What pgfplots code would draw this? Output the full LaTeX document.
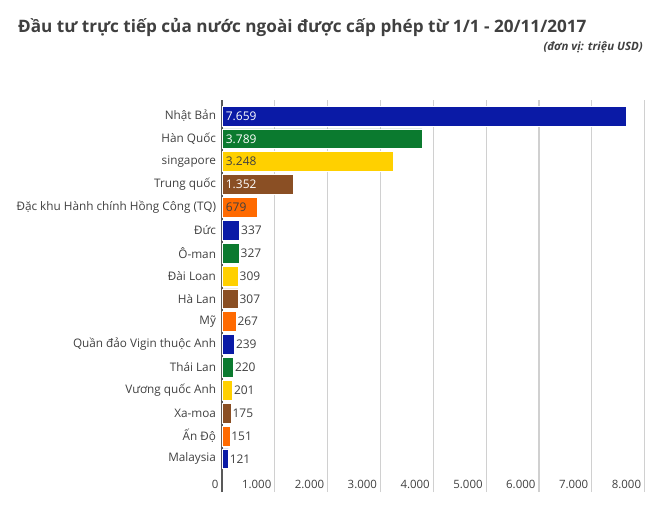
\documentclass[border=0pt]{standalone}
\usepackage{fontspec}
\setmainfont{Open Sans}
\usepackage{pgfplots}
\pgfplotsset{compat=1.18}
\definecolor{cblue}{HTML}{0A1AA6}
\definecolor{cgreen}{HTML}{0B7A2F}
\definecolor{cyellow}{HTML}{FFD000}
\definecolor{cbrown}{HTML}{8A4F24}
\definecolor{corange}{HTML}{FF6A00}
\definecolor{txt}{HTML}{404040}
\definecolor{gridc}{HTML}{D0D0D0}
\begin{document}
\begin{tikzpicture}
\begin{axis}[
    scale only axis,
    width=422.6bp, height=392bp,
    xmin=0, xmax=8000,
    ymin=-1.45, ymax=15.7,
    axis line style={draw=none},
    xtick={0,1000,...,8000},
    xticklabels={0,1.000,2.000,3.000,4.000,5.000,6.000,7.000,8.000},
    xmajorgrids,
    grid style={gridc, line width=1.2pt},
    major tick length=0pt,
    xticklabel style={anchor=base east, yshift=4bp, font=\fontsize{11.5}{13}\selectfont, text=txt},
    ytick={0,...,15},
    yticklabels={Malaysia,Ấn Độ,Xa-moa,Vương quốc Anh,Thái Lan,Quần đảo Vigin thuộc Anh,Mỹ,Hà Lan,Đài Loan,Ô-man,Đức,Đặc khu Hành chính Hồng Công (TQ),Trung quốc,singapore,Hàn Quốc,Nhật Bản},
    yticklabel style={font=\fontsize{11.8}{14}\selectfont, text=txt, xshift=-2.5bp},
    /pgf/number format/assume math mode=true,
    extra x ticks={0},
    extra x tick labels={},
    extra x tick style={grid style={black!65, line width=1.5pt}},
    every axis plot/.append style={draw=white, line width=0.8pt},
]
\addplot[xbar, bar width=0.87, bar shift=0pt, fill=cblue] coordinates {(7659,15) (337,10) (239,5) (121,0)};
\addplot[xbar, bar width=0.87, bar shift=0pt, fill=cgreen] coordinates {(3789,14) (327,9) (220,4)};
\addplot[xbar, bar width=0.87, bar shift=0pt, fill=cyellow] coordinates {(3248,13) (309,8) (201,3)};
\addplot[xbar, bar width=0.87, bar shift=0pt, fill=cbrown] coordinates {(1352,12) (307,7) (175,2)};
\addplot[xbar, bar width=0.87, bar shift=0pt, fill=corange] coordinates {(679,11) (267,6) (151,1)};
% labels inside the bars
\addplot[draw=none, mark=none, point meta=explicit symbolic, nodes near coords,
  nodes near coords style={anchor=west, text=white, font=\fontsize{12}{14}\selectfont, inner sep=3.5bp}]
  coordinates {(0,15) [7.659] (0,14) [3.789] (0,12) [1.352]};
\addplot[draw=none, mark=none, point meta=explicit symbolic, nodes near coords,
  nodes near coords style={anchor=west, text=txt, font=\fontsize{12}{14}\selectfont, inner sep=3.5bp}]
  coordinates {(0,13) [3.248] (0,11) [679]};
% labels outside the bars
\addplot[draw=none, mark=none, point meta=explicit symbolic, nodes near coords,
  nodes near coords style={anchor=west, text=txt, font=\fontsize{12}{14}\selectfont, inner sep=1bp}]
  coordinates {(337,10) [337] (327,9) [327] (309,8) [309] (307,7) [307] (267,6) [267]
               (239,5) [239] (220,4) [220] (201,3) [201] (175,2) [175] (151,1) [151] (121,0) [121]};
\end{axis}
\pgfresetboundingbox
\coordinate (O) at ([shift={(-222bp,-18bp)}]current axis.south west);
\path (O) rectangle ++(660bp,510bp);
\node[anchor=base west, inner sep=0pt, text=txt, font=\fontsize{17.2}{19}\selectfont\bfseries]
  at ([shift={(18bp,477bp)}]O) {Đầu tư trực tiếp của nước ngoài được cấp phép từ 1/1 - 20/11/2017};
\node[anchor=base east, inner sep=0pt, text=txt, font=\fontsize{11.5}{13}\selectfont\bfseries\itshape]
  at ([shift={(643bp,459bp)}]O) {(đơn vị: triệu USD)};
\end{tikzpicture}
\end{document}
